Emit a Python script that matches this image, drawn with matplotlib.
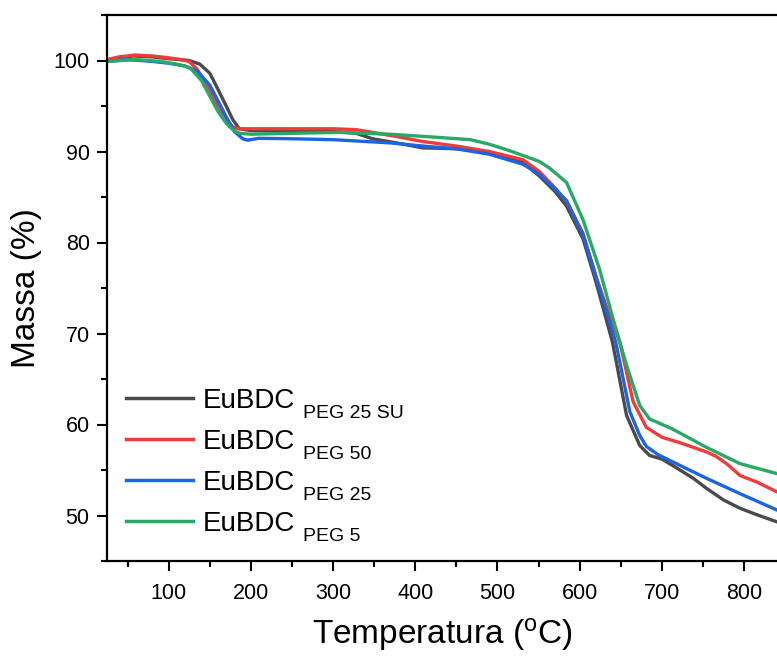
import matplotlib
matplotlib.use("Agg")
import matplotlib.pyplot as plt
from matplotlib.ticker import MultipleLocator
from matplotlib.transforms import offset_copy

plt.rcParams['font.family'] = ['Liberation Sans', 'DejaVu Sans']
plt.rcParams['mathtext.fontset'] = 'custom'
plt.rcParams['mathtext.rm'] = 'Liberation Sans'
plt.rcParams['mathtext.it'] = 'Liberation Sans'

main_label = "EuBDC"
sub_labels = ["PEG 25 SU", "PEG 50", "PEG 25", "PEG 5"]
colors = ["#4a4a4a", "#f23a3a", "#1c64e0", "#2aa866"]

t_su = [25, 40, 57, 80, 100, 125, 138, 150, 158, 170, 178, 186, 200, 250, 300, 328, 348, 380, 409, 450,
        490, 531, 551, 570, 584, 604, 620, 640, 657, 673, 685, 700, 713, 738, 754, 775, 795, 815, 840]
m_su = [100.0, 100.3, 100.5, 100.4, 100.2, 100.0, 99.6, 98.6, 97.2, 95.0, 93.5, 92.5, 92.3, 92.2, 92.2,
        92.0, 91.4, 90.9, 90.4, 90.3, 89.9, 88.8, 87.3, 85.6, 84.0, 80.4, 75.6, 69.0, 61.0, 57.7, 56.6,
        56.2, 55.5, 54.1, 53.0, 51.7, 50.8, 50.1, 49.3]

t_50 = [25, 40, 60, 80, 100, 115, 125, 135, 150, 160, 170, 178, 186, 200, 250, 300, 328, 348, 380, 409,
        450, 490, 531, 551, 570, 584, 604, 620, 635, 649, 665, 681, 700, 722, 754, 766, 780, 795, 815, 840]
m_50 = [100.1, 100.4, 100.6, 100.5, 100.3, 100.1, 99.9, 99.0, 96.8, 95.0, 93.6, 92.7, 92.5, 92.5, 92.5,
        92.5, 92.4, 92.1, 91.6, 91.1, 90.6, 90.0, 89.1, 87.8, 86.0, 84.5, 81.0, 76.2, 72.3, 69.0, 62.5,
        59.7, 58.6, 58.0, 57.0, 56.5, 55.6, 54.4, 53.7, 52.6]

t_25 = [25, 50, 80, 100, 120, 135, 150, 158, 170, 180, 190, 196, 210, 250, 300, 369, 409, 450, 490, 531,
        551, 570, 584, 604, 620, 644, 661, 673, 681, 695, 713, 754, 795, 840]
m_25 = [99.9, 100.1, 99.9, 99.7, 99.4, 98.8, 97.3, 95.9, 93.8, 92.2, 91.4, 91.25, 91.45, 91.4, 91.3,
        90.95, 90.6, 90.3, 89.7, 88.6, 87.5, 85.9, 84.6, 80.9, 76.2, 69.0, 61.4, 58.8, 57.6, 56.7, 55.9,
        54.1, 52.4, 50.6]

t_5 = [25, 60, 90, 110, 126, 140, 150, 160, 170, 178, 186, 200, 250, 308, 369, 420, 467, 490, 511, 530,
       551, 563, 584, 604, 624, 640, 657, 673, 685, 693, 713, 754, 795, 840]
m_5 = [99.9, 100.1, 99.9, 99.6, 99.2, 97.8, 96.1, 94.4, 93.1, 92.4, 92.0, 91.9, 92.0, 92.1, 91.9, 91.6,
       91.3, 90.8, 90.2, 89.6, 88.9, 88.2, 86.6, 82.5, 77.1, 71.8, 66.5, 62.1, 60.6, 60.3, 59.5, 57.5,
       55.7, 54.6]

series = [(t_su, m_su), (t_50, m_50), (t_25, m_25), (t_5, m_5)]

fig = plt.figure(figsize=(7.77, 6.6), dpi=100)
ax = fig.add_axes([107 / 777, 1 - 561 / 660, 1 - 107 / 777, (561 - 15) / 660])

for (t, m), c in zip(series, colors):
    ax.plot(t, m, color=c, lw=2.4, label=main_label, solid_joinstyle='round')

ax.set_xlim(25, 840)
ax.set_ylim(45, 105)
ax.set_xticks([100, 200, 300, 400, 500, 600, 700, 800])
ax.set_yticks([50, 60, 70, 80, 90, 100])
ax.xaxis.set_minor_locator(MultipleLocator(50))
ax.yaxis.set_minor_locator(MultipleLocator(5))
ax.tick_params(which='major', direction='out', length=7.5, width=1.5, labelsize=15.5)
ax.tick_params(axis='x', which='major', pad=8)
ax.tick_params(axis='y', which='major', pad=5)
ax.tick_params(which='minor', direction='out', length=4, width=1.5)
ax.tick_params(axis='x', which='both', top=False)
ax.tick_params(axis='y', which='both', right=False)
for s in ['left', 'bottom', 'top']:
    ax.spines[s].set_linewidth(1.6)
ax.spines['right'].set_visible(False)

ax.set_xlabel(r"Temperatura ($^{\mathrm{o}}$C)", fontsize=24, labelpad=9)
ax.set_ylabel("Massa (%)", fontsize=24, labelpad=8)

leg = ax.legend(loc='lower left', bbox_to_anchor=(0.0, 0.009), frameon=False, fontsize=20,
                handlelength=2.4, handletextpad=0.35, labelspacing=0.54, borderaxespad=0.3)
for h in leg.get_lines():
    h.set_linewidth(2.5)

fig.canvas.draw()
inv = fig.transFigure.inverted()
for txt, sub in zip(leg.get_texts(), sub_labels):
    bb = txt.get_window_extent()
    x, y = inv.transform((bb.x1, bb.y0))
    tr = offset_copy(fig.transFigure, fig=fig, x=8, y=-4, units='dots')
    fig.text(x, y, sub, fontsize=14, transform=tr, ha='left', va='baseline')

fig.savefig("out.png", dpi=100)
